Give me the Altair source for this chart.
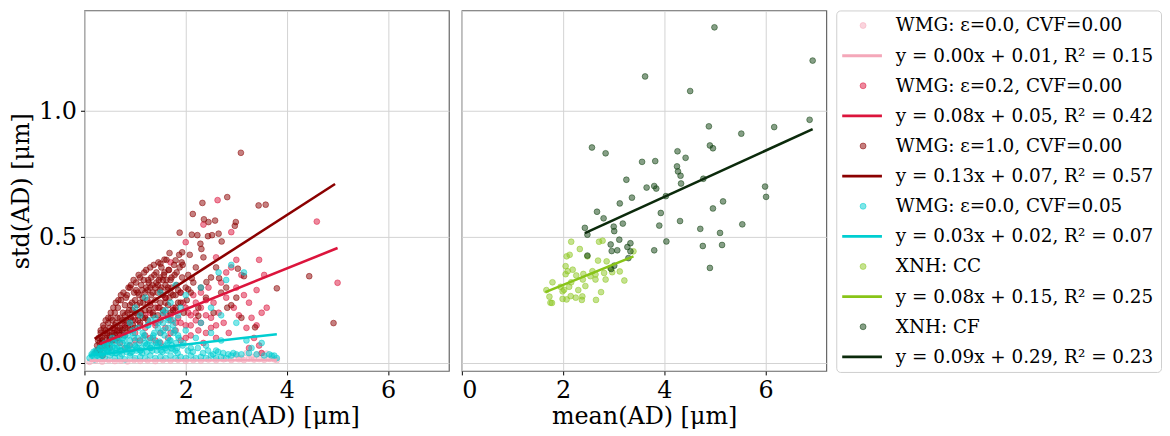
import altair as alt
import pandas as pd

FONT = "DejaVu Serif"

# ---------------- data ----------------
# WMG eps=0.0, CVF=0.00 (pink)
pink_x = [0.10, 0.22, 0.35, 0.48, 0.60, 0.72, 0.85, 0.98, 1.10, 1.25, 1.40, 1.55, 1.70, 1.85, 2.00, 2.15,
          2.30, 2.45, 2.60, 2.75, 2.90, 3.00, 3.10, 3.20, 3.30, 3.40, 3.50, 3.60, 3.70, 3.80,
          3.05, 3.15, 3.25, 3.35, 3.45, 3.55, 3.65, 3.75]
pink_y = [0.005, 0.010, 0.006, 0.012, 0.008, 0.010, 0.007, 0.012, 0.009, 0.011, 0.008, 0.012, 0.010, 0.013,
          0.009, 0.012, 0.010, 0.014, 0.011, 0.015, 0.012, 0.030, 0.020, 0.040, 0.025, 0.035, 0.040, 0.038,
          0.022, 0.012,
          0.015, 0.012, 0.018, 0.014, 0.016, 0.013, 0.017, 0.015]

# WMG eps=0.2, CVF=0.00 (crimson)
crim_x = [0.30, 0.40, 0.50, 0.60, 0.70, 0.80, 0.90, 1.00, 1.10, 1.20, 1.30, 1.40, 1.50, 1.55, 1.60, 1.65,
          1.70, 1.75, 1.80, 1.85, 1.90, 1.95, 2.00, 2.05, 2.10, 2.15, 2.20, 2.25, 2.30, 2.35, 2.40, 2.45,
          2.50, 2.55, 2.60, 2.65, 2.70, 2.75, 2.80, 2.85, 2.90, 2.95, 3.00, 3.05, 3.10, 3.15, 3.20, 3.25,
          3.30, 3.35, 3.40, 3.45, 3.50, 3.55, 3.60, 3.45, 2.63, 4.59, 5.00, 2.90, 2.35, 2.00, 1.70, 2.60,
          3.00, 3.40, 1.20, 1.30, 1.40, 1.45, 1.50, 1.60, 1.70, 1.80, 1.90, 2.00, 2.10, 2.20, 2.30, 2.40,
          0.90, 1.00, 1.10, 0.80, 2.80, 3.25, 3.50,
          0.50, 0.60, 0.70, 0.80, 0.90, 1.00, 1.10, 1.20, 1.30, 1.40, 1.50, 1.60, 1.70, 1.80, 1.90, 2.00,
          2.10, 2.20, 2.30, 2.40, 2.50, 2.60]
crim_y = [0.05, 0.07, 0.06, 0.09, 0.08, 0.11, 0.07, 0.12, 0.09, 0.14, 0.10, 0.16, 0.12, 0.19, 0.14, 0.10,
          0.17, 0.22, 0.13, 0.18, 0.09, 0.24, 0.15, 0.20, 0.11, 0.27, 0.17, 0.13, 0.22, 0.08, 0.19, 0.30,
          0.14, 0.24, 0.10, 0.20, 0.32, 0.16, 0.26, 0.12, 0.38, 0.22, 0.30, 0.19, 0.35, 0.27, 0.14, 0.24,
          0.18, 0.10, 0.29, 0.41, 0.20, 0.35, 0.22, 0.07, 0.647, 0.562, 0.319, 0.52, 0.55, 0.48, 0.40, 0.42,
          0.41, 0.15, 0.19, 0.20, 0.09, 0.22, 0.17, 0.20, 0.12, 0.21, 0.16, 0.10, 0.19, 0.24, 0.16, 0.12,
          0.15, 0.17, 0.15, 0.06, 0.36, 0.06, 0.04,
          0.10, 0.13, 0.12, 0.15, 0.18, 0.09, 0.20, 0.11, 0.24, 0.15, 0.08, 0.26, 0.19, 0.16, 0.28, 0.22,
          0.15, 0.20, 0.28, 0.25, 0.18, 0.15]

# WMG eps=1.0, CVF=0.00 (dark red)
dred_x = [0.22, 0.25, 0.28, 0.30, 0.32, 0.35, 0.38, 0.40, 0.36,
          0.42, 0.45, 0.47, 0.50, 0.52, 0.55, 0.57, 0.60, 0.58,
          0.62, 0.64, 0.66, 0.68, 0.70, 0.72, 0.74, 0.76, 0.78, 0.80,
          0.82, 0.84, 0.86, 0.88, 0.90, 0.92, 0.94, 0.96, 0.98, 1.00,
          1.02, 1.04, 1.06, 1.08, 1.10, 1.12, 1.14, 1.16, 1.18, 1.20,
          1.22, 1.24, 1.26, 1.28, 1.30, 1.32, 1.34, 1.36, 1.38, 1.40,
          1.42, 1.44, 1.46, 1.48, 1.50, 1.52, 1.55, 1.58, 1.60,
          1.62, 1.64, 1.66, 1.68, 1.70, 1.72, 1.75, 1.78, 1.80,
          1.82, 1.85, 1.88, 1.90, 1.93, 1.96, 2.00,
          2.02, 2.05, 2.10, 2.15, 2.20, 2.25, 2.30, 2.35, 2.40, 2.50, 2.55, 2.60, 2.70, 2.80, 2.90, 3.00, 3.10,
          0.50, 0.55, 0.60, 0.65, 0.70, 0.75, 0.80, 0.85, 0.90, 0.95, 1.00, 1.05, 1.10, 1.15, 1.20, 1.25,
          1.30, 1.35, 1.40, 1.45, 1.50, 1.55, 1.60, 1.65, 1.70, 0.45, 0.35, 0.40, 0.30,
          3.09, 2.33, 2.82, 3.44, 3.58, 2.14, 2.36, 2.58, 2.97, 2.99, 2.45, 1.88, 2.12, 2.23, 2.44, 2.52,
          2.65, 2.71, 2.29, 2.31, 1.68, 1.93, 2.08, 1.58, 1.80, 1.50, 1.94, 3.03, 3.15, 3.80, 4.44, 4.92,
          2.12, 2.41, 2.66, 2.82, 2.25, 2.05, 3.37,
          0.25, 0.30, 0.35, 0.40, 0.45, 0.50, 0.55, 0.60, 0.65, 0.70, 0.75, 0.80, 0.85, 0.90, 0.95, 1.00,
          1.05, 1.10, 1.15, 1.20, 1.25, 1.30, 1.35, 1.40, 1.45, 1.50, 1.55, 1.60, 1.65, 1.70, 1.75, 1.80,
          1.85, 1.90,
          0.27, 0.32, 0.37, 0.42, 0.47, 0.52, 0.57, 0.62, 0.67, 0.72, 0.77, 0.82, 0.87, 0.92, 0.97, 1.02,
          1.07, 1.12, 1.17, 1.22, 1.27, 1.32, 1.37, 1.42, 1.47, 1.52, 1.57, 1.62, 1.67, 1.72, 1.77, 1.82,
          1.87, 1.92]
dred_y = [0.04, 0.07, 0.10, 0.05, 0.12, 0.08, 0.14, 0.10, 0.03,
          0.13, 0.07, 0.16, 0.11, 0.18, 0.09, 0.14, 0.20, 0.12,
          0.16, 0.10, 0.22, 0.13, 0.18, 0.25, 0.15, 0.20, 0.12, 0.23,
          0.17, 0.27, 0.14, 0.21, 0.30, 0.18, 0.24, 0.15, 0.28, 0.20,
          0.32, 0.23, 0.17, 0.27, 0.34, 0.20, 0.29, 0.24, 0.36, 0.18,
          0.30, 0.25, 0.33, 0.21, 0.38, 0.27, 0.31, 0.19, 0.35, 0.25,
          0.32, 0.28, 0.40, 0.22, 0.34, 0.30, 0.27, 0.36, 0.24,
          0.33, 0.29, 0.37, 0.26, 0.33, 0.30, 0.21, 0.35, 0.27,
          0.31, 0.24, 0.38, 0.28, 0.34, 0.20, 0.30,
          0.25, 0.35, 0.28, 0.32, 0.38, 0.22, 0.30, 0.42, 0.26, 0.34, 0.20, 0.38, 0.28, 0.30, 0.23, 0.26, 0.18,
          0.14, 0.17, 0.15, 0.18, 0.14, 0.17, 0.19, 0.20, 0.23, 0.21, 0.25, 0.28, 0.24, 0.26, 0.28, 0.29,
          0.30, 0.28, 0.30, 0.31, 0.29, 0.33, 0.31, 0.30, 0.28, 0.11, 0.10, 0.06, 0.08,
          0.835, 0.636, 0.659, 0.626, 0.629, 0.592, 0.571, 0.566, 0.545, 0.560, 0.560, 0.518, 0.510, 0.508,
          0.504, 0.508, 0.514, 0.483, 0.474, 0.453, 0.437, 0.440, 0.430, 0.411, 0.408, 0.395, 0.390, 0.375,
          0.345, 0.297, 0.345, 0.159, 0.337, 0.322, 0.337, 0.220, 0.188, 0.293, 0.142,
          0.05, 0.06, 0.09, 0.08, 0.12, 0.09, 0.12, 0.11, 0.13, 0.11, 0.13, 0.14, 0.16, 0.13, 0.17, 0.14,
          0.19, 0.16, 0.18, 0.21, 0.17, 0.23, 0.20, 0.22, 0.19, 0.24, 0.21, 0.26, 0.23, 0.20, 0.27, 0.22,
          0.29, 0.24,
          0.09, 0.13, 0.15, 0.17, 0.18, 0.20, 0.22, 0.24, 0.25, 0.27, 0.28, 0.26, 0.30, 0.31, 0.33, 0.29,
          0.35, 0.31, 0.33, 0.37, 0.32, 0.34, 0.39, 0.36, 0.33, 0.38, 0.35, 0.41, 0.37, 0.34, 0.39, 0.36,
          0.43, 0.40]

# WMG eps=0.0, CVF=0.05 (cyan)
cyan_x = [0.10, 0.20, 0.30, 0.40, 0.50, 0.60, 0.70, 0.80, 0.90, 1.00, 1.10, 1.20, 1.30, 1.40, 1.50, 1.60,
          1.70, 1.80, 1.90, 2.00, 2.10, 2.20, 2.30, 2.40, 2.50, 2.60, 2.70, 2.80, 2.90, 3.00, 3.80, 3.70,
          0.20, 0.30, 0.35, 0.40, 0.45, 0.50, 0.55, 0.60, 0.65, 0.70, 0.75, 0.80, 0.85, 0.90, 0.95, 1.00,
          1.05, 1.10, 1.15, 1.20, 1.25, 1.30, 1.35, 1.40, 1.45, 1.50, 1.55, 1.60, 1.65, 1.70, 1.75, 1.80,
          1.85, 1.90, 1.95, 2.00, 2.10, 2.20, 2.30, 2.40, 2.50, 2.60, 2.70,
          1.00, 1.20, 1.50, 1.70, 1.80, 2.00, 2.30, 2.50, 2.65, 2.90, 2.80, 3.15, 2.70, 3.00, 3.20, 3.30,
          3.50, 1.30, 0.90, 1.10, 1.60,
          0.15, 0.22, 0.28, 0.33, 0.38, 0.43, 0.48, 0.53, 0.58, 0.63, 0.68, 0.73, 0.78, 0.83, 0.88, 0.93,
          0.98, 1.03, 1.08, 1.13, 1.18, 1.23, 1.28, 1.33, 1.38, 1.43, 1.48, 1.53, 1.58, 1.63, 1.68, 1.73,
          1.78, 1.83,
          0.18, 0.25, 0.31, 0.36, 0.41, 0.46, 0.51, 0.56, 0.61, 0.66, 0.71, 0.76, 0.81, 0.86, 0.91, 0.96,
          1.01, 1.06, 1.11, 1.16, 1.21, 1.26, 1.31, 1.36, 1.41, 1.46, 1.51, 1.56, 1.61, 1.66, 1.71, 1.76,
          1.81, 1.86,
          0.14, 0.26, 0.34, 0.44, 0.54, 0.64, 0.74, 0.84, 0.94, 1.04, 1.14, 1.24, 1.34, 1.44, 1.54, 1.64,
          1.74, 1.84, 1.94, 2.04, 2.14, 2.24, 2.34, 2.44, 2.54, 2.64, 2.74, 2.84, 2.94, 3.10, 3.25, 3.40,
          3.55, 3.65, 3.75, 1.45, 1.55, 1.65, 1.75, 1.85]
cyan_y = [0.020, 0.015, 0.025, 0.020, 0.030, 0.020, 0.025, 0.015, 0.030, 0.020, 0.025, 0.020, 0.030, 0.020,
          0.025, 0.020, 0.030, 0.020, 0.025, 0.020, 0.030, 0.020, 0.025, 0.020, 0.030, 0.020, 0.025, 0.020,
          0.030, 0.035, 0.020, 0.030,
          0.04, 0.06, 0.045, 0.08, 0.05, 0.07, 0.10, 0.06, 0.09, 0.05, 0.08, 0.11, 0.06, 0.09, 0.13, 0.07,
          0.10, 0.05, 0.12, 0.08, 0.15, 0.06, 0.10, 0.18, 0.08, 0.12, 0.20, 0.06, 0.14, 0.09, 0.17, 0.05,
          0.11, 0.22, 0.08, 0.13, 0.06, 0.10, 0.16, 0.07, 0.12, 0.05, 0.09,
          0.22, 0.26, 0.28, 0.24, 0.31, 0.27, 0.30, 0.22, 0.36, 0.39, 0.33, 0.36, 0.19, 0.16, 0.09, 0.06,
          0.08, 0.17, 0.16, 0.19, 0.21,
          0.030, 0.050, 0.035, 0.060, 0.040, 0.070, 0.045, 0.050, 0.080, 0.040, 0.065, 0.050, 0.090, 0.045,
          0.070, 0.055, 0.100, 0.050, 0.080, 0.060, 0.110, 0.045, 0.090, 0.070, 0.120, 0.050, 0.085, 0.065,
          0.110, 0.050, 0.090, 0.070, 0.130, 0.060,
          0.045, 0.030, 0.060, 0.040, 0.075, 0.050, 0.085, 0.065, 0.040, 0.090, 0.050, 0.100, 0.060, 0.110,
          0.040, 0.120, 0.065, 0.140, 0.050, 0.100, 0.070, 0.150, 0.060, 0.110, 0.080, 0.160, 0.050, 0.130,
          0.070, 0.170, 0.060, 0.120, 0.080, 0.100,
          0.035, 0.045, 0.030, 0.055, 0.040, 0.060, 0.035, 0.070, 0.045, 0.060, 0.040, 0.075, 0.050, 0.065,
          0.045, 0.080, 0.055, 0.040, 0.070, 0.050, 0.045, 0.060, 0.040, 0.050, 0.035, 0.045, 0.040, 0.035,
          0.040, 0.035, 0.040, 0.035, 0.030, 0.035, 0.030, 0.140, 0.160, 0.180, 0.150, 0.190]

# XNH: CC (light green)
cc_x = [2.16, 2.78, 2.71, 2.33, 2.07, 2.13, 2.48, 2.69, 2.86, 3.39, 2.05, 2.09, 2.05, 2.26, 2.40, 2.54,
        2.64, 2.81, 2.97, 3.12, 2.39, 2.16, 1.79, 3.21, 1.95, 2.12, 2.44, 2.30, 1.67, 1.99, 2.75, 1.73,
        2.15, 2.25, 2.38, 2.07, 1.99, 2.65, 1.75, 1.78, 2.37, 2.02, 2.58, 2.19, 2.93, 2.64, 2.84]
cc_y = [0.482, 0.486, 0.482, 0.453, 0.424, 0.430, 0.424, 0.407, 0.404, 0.444, 0.385, 0.365, 0.353, 0.348,
        0.354, 0.345, 0.352, 0.358, 0.361, 0.364, 0.332, 0.321, 0.321, 0.328, 0.303, 0.303, 0.306, 0.290,
        0.290, 0.285, 0.282, 0.264, 0.266, 0.260, 0.265, 0.253, 0.255, 0.251, 0.240, 0.239, 0.251, 0.291,
        0.365, 0.371, 0.378, 0.332, 0.332]

# XNH: CF (dark green)
cf_x = [4.99, 6.93, 3.62, 4.51, 6.87, 4.88, 6.17, 5.52, 2.57, 2.84, 4.90, 4.96, 4.26, 4.42, 3.56, 3.82,
        4.25, 4.27, 4.32, 3.25, 4.77, 3.65, 3.80, 3.84, 4.33, 5.99, 6.01, 3.36, 4.03, 3.12, 5.16, 4.96,
        2.67, 3.93, 2.80, 4.31, 3.18, 5.54, 3.00, 2.43, 3.90, 3.01, 2.48, 4.71, 5.10, 3.11, 4.04, 2.94,
        3.33, 3.27, 4.76, 5.14, 2.96, 3.07, 3.33, 3.80, 2.48, 3.29, 4.90, 2.95, 3.01]
cf_y = [1.333, 1.201, 1.138, 1.080, 0.966, 0.940, 0.937, 0.911, 0.856, 0.833, 0.864, 0.853, 0.841, 0.815,
        0.799, 0.802, 0.781, 0.761, 0.744, 0.728, 0.732, 0.697, 0.703, 0.693, 0.713, 0.701, 0.660, 0.657,
        0.663, 0.634, 0.642, 0.614, 0.601, 0.596, 0.575, 0.564, 0.554, 0.551, 0.542, 0.537, 0.546, 0.524,
        0.510, 0.533, 0.517, 0.490, 0.483, 0.471, 0.476, 0.461, 0.465, 0.469, 0.445, 0.448, 0.444, 0.448,
        0.427, 0.417, 0.378, 0.374, 0.387]

# fitted lines: endpoints
line_names = ["WMG ε=0.0", "WMG ε=0.2", "WMG ε=1.0", "WMG CVF=0.05", "XNH CC", "XNH CF"]
line_x0 = [0.10, 0.30, 0.20, 0.10, 1.65, 2.43]
line_y0 = [0.010, 0.076, 0.096, 0.030, 0.282, 0.516]
line_x1 = [3.80, 5.00, 4.95, 3.80, 3.39, 6.93]
line_y1 = [0.012, 0.457, 0.711, 0.115, 0.424, 0.929]

legend_labels = [
    "WMG: ε=0.0, CVF=0.00", "y = 0.00x + 0.01, R² = 0.15",
    "WMG: ε=0.2, CVF=0.00", "y = 0.08x + 0.05, R² = 0.42",
    "WMG: ε=1.0, CVF=0.00", "y = 0.13x + 0.07, R² = 0.57",
    "WMG: ε=0.0, CVF=0.05", "y = 0.03x + 0.02, R² = 0.07",
    "XNH: CC", "y = 0.08x + 0.15, R² = 0.25",
    "XNH: CF", "y = 0.09x + 0.29, R² = 0.23",
]
legend_kind = ["point", "line"] * 6

point_colors = ["#f6a9bb", "#dc143c", "#8b0000", "#00ced1", "#8cc620", "#0d3f0d"]
line_colors = ["#f4a7b9", "#dc143c", "#8b0000", "#00ced1", "#88c418", "#0b2a0b"]

# ---------------- frames ----------------
def pts(name, xs, ys):
    return pd.DataFrame({"series": name, "x": xs, "y": ys})

left_pts = pd.concat([
    pts(line_names[0], pink_x, pink_y),
    pts(line_names[1], crim_x, crim_y),
    pts(line_names[2], dred_x, dred_y),
    pts(line_names[3], cyan_x, cyan_y),
], ignore_index=True)
right_pts = pd.concat([
    pts(line_names[4], cc_x, cc_y),
    pts(line_names[5], cf_x, cf_y),
], ignore_index=True)

rows = []
for i, n in enumerate(line_names):
    rows.append({"series": n, "x": line_x0[i], "y": line_y0[i], "x2": line_x1[i], "y2": line_y1[i]})
lines_df = pd.DataFrame(rows)
left_lines = lines_df.iloc[:4]
right_lines = lines_df.iloc[4:]

pt_scale = alt.Scale(domain=line_names, range=point_colors)
ln_scale = alt.Scale(domain=line_names, range=line_colors)

W, H = 367, 363
xscale = alt.Scale(domain=[0, 7.2], nice=False, zero=False)
yscale = alt.Scale(domain=[-0.031, 1.40], nice=False, zero=False)

xaxis = alt.Axis(values=[0, 2, 4, 6], format="d", title="mean(AD) [μm]", grid=True,
                 tickSize=4, labelPadding=4, titlePadding=2, domain=False)


def panel(pdf, ldf, yaxis):
    p = alt.Chart(pdf).mark_point(filled=True, size=34, fillOpacity=0.5, strokeOpacity=0.5,
                                   strokeWidth=1).encode(
        x=alt.X("x:Q", scale=xscale, axis=xaxis),
        y=alt.Y("y:Q", scale=yscale, axis=yaxis),
        color=alt.Color("series:N", scale=pt_scale, legend=None),
        stroke=alt.Stroke("series:N", scale=pt_scale, legend=None),
    )
    l = alt.Chart(ldf).mark_rule(strokeWidth=2.6).encode(
        x="x:Q", y="y:Q", x2="x2:Q", y2="y2:Q",
        color=alt.Color("series:N", scale=ln_scale, legend=None),
    )
    return alt.layer(p, l).resolve_scale(color="independent").properties(width=W, height=H)


left = panel(left_pts, left_lines,
             alt.Axis(values=[0, 0.5, 1.0], format=".1f", title="std(AD) [μm]", grid=True,
                      tickSize=4, labelPadding=4, titlePadding=5, domain=False))
right = panel(right_pts, right_lines,
              alt.Axis(values=[0, 0.5, 1.0], labels=False, ticks=False, title=None, grid=True,
                       domain=False))

# ---------------- legend panel ----------------
leg = pd.DataFrame({
    "row": list(range(12)),
    "label": legend_labels,
    "kind": legend_kind,
    "pcolor": [c for c in point_colors for _ in range(2)],
    "lcolor": [c for c in line_colors for _ in range(2)],
})
ly = alt.Y("row:O", axis=None, scale=alt.Scale(paddingInner=0, paddingOuter=0))
leg_pts = alt.Chart(leg).transform_filter("datum.kind == 'point'").mark_point(
    filled=True, size=36, fillOpacity=0.5, strokeOpacity=0.5, strokeWidth=1).encode(
    x=alt.value(27), y=ly,
    color=alt.Color("pcolor:N", scale=None), stroke=alt.Stroke("pcolor:N", scale=None))
leg_lines = alt.Chart(leg).transform_filter("datum.kind == 'line'").mark_rule(strokeWidth=3).encode(
    x=alt.value(6), x2=alt.value(46), y=ly,
    color=alt.Color("lcolor:N", scale=None))
leg_text = alt.Chart(leg).mark_text(align="left", baseline="middle", font=FONT, fontSize=18.5,
                                    color="black").encode(
    x=alt.value(60), y=ly, text="label:N")
legend_panel = alt.layer(leg_pts, leg_lines, leg_text).properties(
    width=327, height=364,
    view=alt.ViewBackground(stroke="#cfcfcf", strokeWidth=1, cornerRadius=4, fill="white"))

chart = alt.hconcat(
    alt.hconcat(left, right, spacing=10),
    legend_panel,
    spacing=8,
).properties(padding={"left": 1, "top": 0, "right": 0, "bottom": 0}).configure(
    font=FONT,
).configure_view(
    stroke="#666666", strokeWidth=1.2,
).configure_axis(
    labelFont=FONT, titleFont=FONT, labelFontSize=24, titleFontSize=24,
    labelColor="black", titleColor="black", titleFontWeight="normal",
    tickColor="black", gridColor="#d3d3d3", gridWidth=1,
)

chart.save("out.html", embed_options={"renderer": "svg", "actions": False})
